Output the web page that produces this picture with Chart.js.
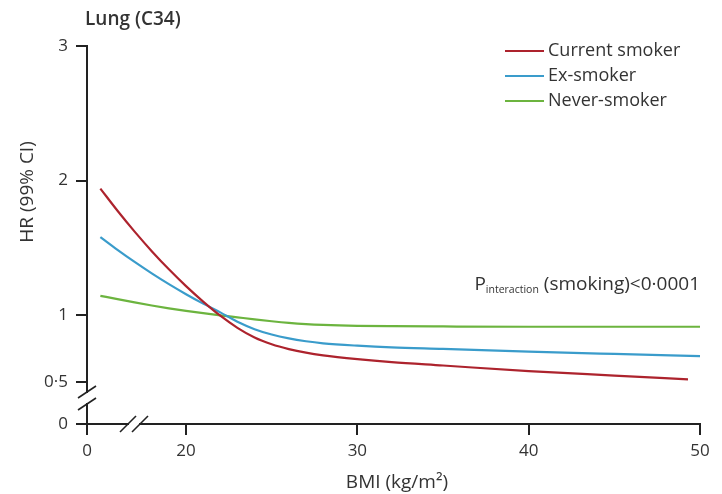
<!DOCTYPE html>
<html>
<head>
<meta charset="utf-8">
<script src="https://cdn.jsdelivr.net/npm/chart.js@4/dist/chart.umd.min.js"></script>
<style>
  html, body { margin: 0; padding: 0; background: #fff; }
  #wrap { width: 722px; height: 494px; }
</style>
</head>
<body>
<div id="wrap"><canvas id="lung" width="722" height="494"></canvas></div>
<script>
// axes are broken: the left/bottom ends stand for 0
const X_AXIS_START = 14.22;
const Y_AXIS_START = 0.19;

const xTicks = [X_AXIS_START, 20, 30, 40, 50];
const xTickLabels = ['0', '20', '30', '40', '50'];
const yTicks = [Y_AXIS_START, 0.5, 1, 2, 3];
const yTickLabels = ['0', '0·5', '1', '2', '3'];

const seriesNames = ['Current smoker', 'Ex-smoker', 'Never-smoker'];
const seriesColors = ['#ad232d', '#3a9ccb', '#6cb43f'];

const bmi = [15, 16, 17, 18, 19, 20, 21, 22, 23, 24, 25, 26, 27, 28, 30, 32, 35, 40, 45, 50];
const bmiCurrent = [15, 16, 17, 18, 19, 20, 21, 22, 23, 24, 25, 26, 27, 28, 30, 32, 35, 40, 45, 49.3];

const hrCurrent = [1.94, 1.775, 1.62, 1.475, 1.34, 1.215, 1.10, 0.995, 0.905, 0.833, 0.783, 0.747, 0.72, 0.70, 0.672, 0.65, 0.625, 0.583, 0.55, 0.522];
const hrEx = [1.58, 1.485, 1.395, 1.31, 1.23, 1.155, 1.085, 1.02, 0.95, 0.895, 0.855, 0.826, 0.805, 0.79, 0.772, 0.759, 0.748, 0.728, 0.711, 0.695];
const hrNever = [1.143, 1.118, 1.094, 1.071, 1.05, 1.031, 1.014, 0.998, 0.983, 0.968, 0.954, 0.942, 0.933, 0.927, 0.92, 0.917, 0.915, 0.913, 0.913, 0.913];

const FONT = '"Open Sans", sans-serif';
const TEXT = '#333';
const AXIS = '#222';

function toPoints(xs, ys) {
  return xs.map((x, i) => ({ x: x, y: ys[i] }));
}

// title, legend, axis titles, p-value and the // breaks
const overlay = {
  id: 'overlay',
  afterDraw(chart) {
    const ctx = chart.ctx;
    const area = chart.chartArea;
    ctx.save();
    ctx.fillStyle = TEXT;
    ctx.textBaseline = 'middle';

    ctx.font = '600 19px ' + FONT;
    ctx.textAlign = 'left';
    ctx.fillText('Lung (C34)', 85, 20);

    // legend
    ctx.font = '18px ' + FONT;
    chart.data.datasets.forEach((ds, i) => {
      const y = 51 + i * 25;
      ctx.strokeStyle = ds.borderColor;
      ctx.lineWidth = 2;
      ctx.beginPath();
      ctx.moveTo(505, y);
      ctx.lineTo(544, y);
      ctx.stroke();
      ctx.fillText(ds.label, 548, y);
    });

    // P interaction note, right aligned to the plot edge
    ctx.textBaseline = 'alphabetic';
    const rest = ' (smoking)<0·0001';
    ctx.font = '19px ' + FONT;
    const wP = ctx.measureText('P').width;
    const wRest = ctx.measureText(rest).width;
    ctx.font = '10.5px ' + FONT;
    const wSub = ctx.measureText('interaction').width;
    let px = area.right - (wP + wSub + wRest);
    ctx.font = '19px ' + FONT;
    ctx.fillText('P', px, 290);
    px += wP;
    ctx.font = '10.5px ' + FONT;
    ctx.fillText('interaction', px, 293);
    px += wSub;
    ctx.font = '19px ' + FONT;
    ctx.fillText(rest, px, 290);

    // axis titles
    ctx.font = '19px ' + FONT;
    ctx.textAlign = 'center';
    ctx.textBaseline = 'middle';
    ctx.fillText('BMI (kg/m²)', 397, 483);
    ctx.save();
    ctx.translate(28, 192);
    ctx.rotate(-Math.PI / 2);
    ctx.fillText('HR (99% CI)', 0, 0);
    ctx.restore();

    // axis breaks
    ctx.strokeStyle = AXIS;
    ctx.lineWidth = 1.6;
    ctx.fillStyle = '#fff';
    const yb = 398;
    ctx.fillRect(area.left - 3, yb - 5, 6, 10);
    [yb - 6, yb + 6].forEach(y => {
      ctx.beginPath();
      ctx.moveTo(area.left - 9, y + 6);
      ctx.lineTo(area.left + 9, y - 6);
      ctx.stroke();
    });
    const xb = 134;
    ctx.fillRect(xb - 5, area.bottom - 3, 10, 6);
    [xb - 6, xb + 6].forEach(x => {
      ctx.beginPath();
      ctx.moveTo(x - 8, area.bottom + 8);
      ctx.lineTo(x + 8, area.bottom - 8);
      ctx.stroke();
    });
    ctx.restore();
  }
};

const ctx = document.getElementById('lung').getContext('2d');
const lungChart = new Chart(ctx, {
  type: 'line',
  data: {
    datasets: [
      { label: seriesNames[0], data: toPoints(bmiCurrent, hrCurrent), borderColor: seriesColors[0] },
      { label: seriesNames[1], data: toPoints(bmi, hrEx), borderColor: seriesColors[1] },
      { label: seriesNames[2], data: toPoints(bmi, hrNever), borderColor: seriesColors[2] }
    ]
  },
  options: {
    responsive: false,
    animation: false,
    devicePixelRatio: 1,
    layout: { padding: { top: 46, right: 22, left: 0, bottom: 0 } },
    elements: {
      line: { borderWidth: 2.2, cubicInterpolationMode: 'monotone', fill: false },
      point: { radius: 0 }
    },
    plugins: {
      legend: { display: false },
      tooltip: { enabled: false }
    },
    scales: {
      x: {
        type: 'linear',
        min: X_AXIS_START,
        max: 50,
        afterBuildTicks: scale => { scale.ticks = xTicks.map(v => ({ value: v })); },
        afterFit: scale => { scale.height = 70; },
        ticks: {
          callback: (value, index) => xTickLabels[index],
          font: { family: FONT, size: 17 },
          color: TEXT,
          padding: 6,
          maxRotation: 0
        },
        grid: { drawOnChartArea: false, tickLength: 11, color: AXIS, lineWidth: 2 },
        border: { color: AXIS, width: 2 }
      },
      y: {
        type: 'linear',
        min: Y_AXIS_START,
        max: 3,
        afterBuildTicks: scale => { scale.ticks = yTicks.map(v => ({ value: v })); },
        afterFit: scale => { scale.width = 87; },
        ticks: {
          callback: (value, index) => yTickLabels[index],
          font: { family: FONT, size: 17 },
          color: TEXT,
          padding: 8
        },
        grid: { drawOnChartArea: false, tickLength: 11, color: AXIS, lineWidth: 2 },
        border: { color: AXIS, width: 2 }
      }
    }
  },
  plugins: [overlay]
});
</script>
</body>
</html>
